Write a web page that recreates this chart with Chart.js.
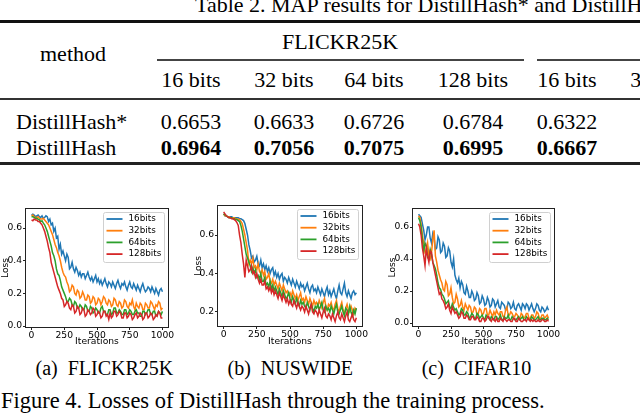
<!DOCTYPE html>
<html>
<head>
<meta charset="utf-8">
<script src="https://cdn.jsdelivr.net/npm/chart.js@4.4.1/dist/chart.umd.min.js"></script>
<style>
    body { margin: 0; width: 640px; height: 415px; overflow: hidden; background: #fff; position: relative; font-family: "Liberation Serif", serif; color: #000; }
    .t { position: absolute; font-size: 22px; line-height: 1; white-space: pre; }
    .c { width: 120px; text-align: center; }
    .b { font-weight: bold; }
    .rule { position: absolute; background: #000; }
    canvas { position: absolute; }
</style>
</head>
<body>
<div class="t" style="left:195px;top:-6px">Table 2. MAP results for DistillHash* and DistillHash.</div>
<div class="rule" style="left:0;top:20px;width:640px;height:3px;background:#111"></div>
<div class="t c" style="left:280px;top:31px">FLICKR25K</div>
<div class="t" style="left:40px;top:43px">method</div>
<div class="rule" style="left:157px;top:59px;width:367px;height:2px;background:#444"></div>
<div class="rule" style="left:537px;top:59px;width:103px;height:2px;background:#444"></div>
<div id="head"></div>
<div class="rule" style="left:0;top:98px;width:640px;height:2px;background:#333"></div>
<div class="t" style="left:16px;top:110.5px">DistillHash*</div>
<div class="t" style="left:16px;top:136.5px">DistillHash</div>
<div id="rows"></div>
<div class="rule" style="left:0;top:162px;width:640px;height:3px;background:#222"></div>

<canvas id="chartFlickr" width="174" height="147" style="left:0;top:200px"></canvas>
<canvas id="chartNus" width="175" height="147" style="left:193px;top:200px"></canvas>
<canvas id="chartCifar" width="173" height="147" style="left:387px;top:200px"></canvas>

<div class="t c" style="left:35.5px;top:358px;font-size:20px">(a)  FLICKR25K</div>
<div class="t c" style="left:227.5px;top:358px;font-size:20px">(b)  NUSWIDE</div>
<div class="t c" style="left:416.5px;top:358px;font-size:20px">(c)  CIFAR10</div>
<div class="t" style="left:1px;top:390px;font-size:22.5px">Figure 4. Losses of DistillHash through the training process.</div>

<script>
// table
let colHeads = ["16 bits", "32 bits", "64 bits", "128 bits", "16 bits", "32 bits"]
let rowStar = ["0.6653", "0.6633", "0.6726", "0.6784", "0.6322", "0"]
let rowFull = ["0.6964", "0.7056", "0.7075", "0.6995", "0.6667", "0"]
let colCenters = [191, 284, 374, 473, 567, 660]

// loss curves, one value every 10 iterations
let iters = [0,10,20,30,40,50,60,70,80,90, 100,110,120,130,140,150,160,170,180,190,
    200,210,220,230,240,250,260,270,280,290, 300,310,320,330,340,350,360,370,380,390,
    400,410,420,430,440,450,460,470,480,490, 500,510,520,530,540,550,560,570,580,590,
    600,610,620,630,640,650,660,670,680,690, 700,710,720,730,740,750,760,770,780,790,
    800,810,820,830,840,850,860,870,880,890, 900,910,920,930,940,950,960,970,980,990, 1000]
let bitLabels = ["16bits", "32bits", "64bits", "128bits"]
let xTicks = [0, 250, 500, 750, 1000]

let flickr16 = [.68,.685,.68,.67,.675,.68,.67,.665,.675,.66, .665,.675,.67,.64,.655,.62,.63,.58,.60,.54,
    .55,.47,.50,.44,.46,.43,.40,.44,.42,.35, .36,.39,.35,.33,.36,.34,.31,.33,.30,.32,
    .32,.29,.31,.33,.30,.28,.30,.27,.29,.31, .27,.29,.26,.28,.25,.27,.29,.26,.24,.27,
    .26,.24,.27,.25,.23,.26,.28,.25,.23,.26, .25,.27,.24,.22,.25,.27,.24,.23,.26,.24,
    .22,.25,.23,.21,.24,.26,.23,.21,.22,.24, .23,.21,.24,.22,.20,.23,.21,.19,.22,.23, .21]
let flickr32 = [.675,.68,.67,.665,.665,.67,.66,.655,.655,.66, .65,.64,.63,.62,.60,.58,.56,.53,.50,.48,
    .45,.43,.40,.36,.33,.31,.30,.27,.25,.21, .22,.25,.24,.20,.19,.22,.21,.17,.18,.21,
    .19,.16,.16,.19,.18,.14,.15,.18,.17,.13, .14,.17,.16,.13,.15,.18,.17,.14,.13,.16,
    .15,.12,.13,.17,.16,.13,.12,.15,.14,.11, .12,.16,.15,.12,.11,.14,.13,.16,.12,.10,
    .14,.12,.11,.14,.13,.10,.10,.14,.13,.11, .11,.15,.14,.12,.10,.13,.12,.15,.14,.10, .11]
let flickr64 = [.67,.67,.665,.66,.66,.655,.65,.64,.645,.63, .62,.60,.58,.55,.52,.49,.45,.43,.40,.35,
    .32,.31,.28,.24,.22,.20,.18,.15,.15,.17, .16,.13,.12,.15,.14,.11,.11,.13,.12,.10,
    .10,.13,.12,.09,.09,.12,.11,.08,.09,.11, .10,.08,.08,.11,.12,.09,.09,.07,.07,.10,
    .10,.07,.08,.11,.11,.08,.08,.10,.09,.07, .07,.10,.10,.07,.08,.10,.09,.07,.07,.09,
    .10,.08,.08,.06,.06,.09,.09,.07,.08,.10, .10,.07,.07,.09,.09,.06,.07,.09,.08,.07, .09]
let flickr128 = [.65,.645,.655,.65,.65,.64,.64,.63,.62,.60, .58,.55,.52,.48,.45,.39,.36,.33,.30,.27,
    .24,.22,.20,.17,.16,.12,.13,.15,.14,.11, .10,.13,.12,.08,.09,.12,.11,.07,.08,.11,
    .10,.06,.07,.10,.09,.07,.08,.11,.10,.06, .07,.09,.08,.05,.06,.09,.09,.06,.07,.04,
    .08,.05,.06,.09,.09,.06,.07,.09,.08,.05, .05,.08,.08,.05,.06,.08,.07,.04,.05,.07,
    .08,.05,.06,.08,.07,.04,.05,.08,.08,.05, .06,.08,.07,.04,.05,.07,.06,.09,.08,.05, .05]

let nus16 = [.71,.70,.70,.695,.695,.695,.695,.69,.69,.69, .69,.69,.685,.685,.68,.675,.66,.63,.60,.55,
    .52,.48,.49,.46,.47,.49,.45,.44,.47,.43, .45,.42,.44,.41,.43,.40,.42,.43,.39,.41,
    .38,.40,.37,.39,.40,.36,.38,.37,.35,.38, .36,.34,.37,.35,.33,.36,.34,.32,.35,.33,
    .34,.31,.33,.35,.32,.30,.33,.34,.31,.32, .30,.33,.31,.29,.32,.30,.28,.31,.33,.29,
    .31,.28,.30,.32,.29,.27,.31,.34,.30,.29, .32,.35,.30,.28,.31,.29,.27,.30,.31,.29, .30]
let nus32 = [.71,.70,.70,.695,.695,.69,.69,.69,.69,.685, .685,.68,.68,.67,.66,.63,.60,.56,.52,.45,
    .47,.45,.48,.43,.44,.42,.45,.41,.40,.42, .39,.41,.37,.38,.40,.36,.35,.37,.34,.36,
    .34,.32,.35,.33,.31,.34,.32,.30,.31,.29, .30,.28,.31,.29,.27,.29,.26,.28,.30,.26,
    .27,.25,.28,.26,.24,.27,.25,.23,.26,.24, .25,.23,.26,.24,.22,.25,.27,.23,.21,.24,
    .23,.25,.22,.21,.24,.26,.22,.20,.23,.25, .21,.19,.22,.24,.21,.20,.23,.21,.19,.22, .21]
let nus64 = [.71,.705,.70,.695,.69,.69,.69,.685,.685,.68, .68,.675,.67,.65,.62,.58,.54,.50,.48,.46,
    .44,.41,.43,.40,.42,.38,.39,.37,.40,.36, .36,.38,.34,.35,.33,.36,.32,.34,.31,.33,
    .31,.29,.32,.30,.28,.31,.29,.27,.28,.30, .27,.25,.28,.26,.24,.27,.25,.23,.26,.24,
    .25,.23,.22,.25,.23,.21,.24,.22,.20,.23, .22,.24,.21,.23,.25,.21,.20,.23,.21,.22,
    .20,.23,.21,.19,.22,.24,.20,.19,.21,.23, .20,.18,.22,.21,.19,.23,.20,.18,.21,.19, .22]
let nus128 = [.72,.71,.70,.695,.69,.69,.685,.685,.68,.675, .665,.65,.60,.56,.50,.45,.38,.47,.44,.41,
    .42,.44,.40,.41,.38,.40,.37,.35,.37,.34, .34,.36,.32,.33,.31,.33,.30,.32,.29,.31,
    .29,.27,.30,.28,.26,.29,.27,.25,.27,.24, .26,.24,.23,.26,.24,.22,.25,.23,.21,.23,
    .22,.20,.23,.21,.19,.22,.24,.20,.19,.21, .20,.18,.21,.19,.17,.20,.22,.18,.17,.19,
    .18,.16,.19,.17,.15,.18,.20,.17,.16,.19, .17,.15,.18,.20,.16,.15,.17,.19,.16,.15, .17]

let cifar16 = [.68,.67,.66,.62,.58,.52,.55,.60,.60,.53, .50,.56,.53,.46,.47,.54,.52,.44,.45,.50,
    .48,.41,.42,.47,.45,.38,.35,.40,.30,.27, .25,.28,.22,.26,.24,.19,.18,.23,.20,.16,
    .16,.20,.18,.14,.15,.19,.17,.12,.13,.17, .15,.11,.12,.16,.14,.10,.11,.15,.14,.10,
    .12,.14,.10,.09,.13,.12,.11,.08,.09,.13, .12,.09,.10,.13,.09,.08,.11,.12,.10,.08,
    .12,.11,.09,.12,.11,.08,.10,.12,.09,.07, .09,.12,.11,.08,.07,.10,.09,.07,.08,.10, .08]
let cifar32 = [.67,.66,.62,.55,.50,.44,.45,.50,.42,.40, .44,.52,.58,.42,.38,.33,.30,.27,.25,.21,
    .20,.26,.24,.17,.18,.22,.16,.12,.13,.18, .15,.10,.11,.14,.10,.08,.12,.10,.08,.11,
    .10,.06,.07,.10,.09,.05,.06,.09,.08,.05, .06,.09,.09,.05,.05,.08,.06,.04,.07,.05,
    .08,.06,.05,.07,.07,.04,.04,.08,.10,.05, .05,.07,.06,.04,.04,.06,.05,.03,.03,.06,
    .05,.03,.04,.06,.06,.03,.03,.05,.05,.03, .04,.07,.06,.03,.03,.05,.05,.03,.04,.05, .03]
let cifar64 = [.66,.64,.60,.52,.45,.50,.48,.41,.40,.46, .43,.38,.36,.34,.30,.25,.22,.21,.18,.17,
    .15,.12,.13,.14,.10,.09,.12,.10,.08,.09, .07,.05,.06,.09,.08,.05,.05,.07,.06,.03,
    .04,.06,.05,.03,.03,.06,.05,.03,.04,.05, .03,.02,.05,.04,.03,.02,.04,.03,.02,.04,
    .04,.02,.03,.05,.02,.02,.04,.03,.03,.05, .02,.02,.04,.03,.02,.02,.03,.04,.02,.03,
    .04,.02,.02,.04,.03,.02,.02,.04,.03,.02, .02,.03,.04,.02,.02,.03,.03,.02,.02,.03, .02]
let cifar128 = [.62,.60,.55,.47,.42,.36,.47,.42,.38,.45, .44,.38,.34,.30,.26,.22,.18,.19,.15,.14,
    .12,.09,.10,.12,.08,.06,.10,.08,.06,.07, .05,.03,.04,.07,.06,.03,.03,.05,.04,.02,
    .02,.04,.04,.02,.02,.04,.03,.01,.01,.03, .03,.01,.02,.04,.04,.02,.01,.03,.02,.01,
    .03,.01,.01,.03,.02,.01,.03,.02,.01,.02, .02,.01,.01,.03,.03,.01,.01,.03,.02,.01,
    .01,.02,.02,.01,.03,.02,.01,.02,.01,.02, .01,.01,.02,.01,.01,.02,.02,.01,.01,.02, .01]

let yTicksFlickr = [0, 0.2, 0.4, 0.6]
let yTicksNus = [0.2, 0.4, 0.6]
let yTicksCifar = [0, 0.2, 0.4, 0.6]

let lineColors = ["#1f77b4", "#ff7f0e", "#2ca02c", "#d62728"]

function fillTable() {
    let head = document.querySelector("#head")
    let rows = document.querySelector("#rows")
    for (let i = 0; i < colHeads.length; i++) {
        let left = (colCenters[i] - 60) + "px"
        head.innerHTML += '<div class="t c" style="left:' + left + ';top:69px">' + colHeads[i] + '</div>'
        rows.innerHTML += '<div class="t c" style="left:' + left + ';top:110.5px">' + rowStar[i] + '</div>'
        rows.innerHTML += '<div class="t c b" style="left:' + left + ';top:136.5px">' + rowFull[i] + '</div>'
    }
}
fillTable()

// frame + legend box like matplotlib
const frameLegend = {
    id: 'frameLegend',
    afterDatasetsDraw(chart) {
        let ctx = chart.ctx
        let a = chart.chartArea
        ctx.save()
        ctx.font = '8.8px "DejaVu Sans"'
        let w = 0
        chart.data.datasets.forEach(d => { w = Math.max(w, ctx.measureText(d.label).width) })
        let bw = Math.round(3 + 16 + 6 + w + 3)
        let bh = Math.round(chart.data.datasets.length * 11.7 + 3)
        let bx = Math.round(a.right - 5 - bw) + 0.5
        let by = Math.round(a.top + 4) + 0.5
        ctx.fillStyle = 'rgba(255,255,255,0.8)'
        ctx.strokeStyle = '#d0d0d0'
        ctx.lineWidth = 1
        ctx.beginPath()
        ctx.roundRect(bx, by, bw, bh, 2)
        ctx.fill()
        ctx.stroke()
        chart.data.datasets.forEach((d, i) => {
            let y = by + 6.5 + i * 11.7
            ctx.strokeStyle = d.borderColor
            ctx.lineWidth = 1.8
            ctx.beginPath()
            ctx.moveTo(bx + 3, y)
            ctx.lineTo(bx + 19, y)
            ctx.stroke()
            ctx.fillStyle = '#000'
            ctx.textBaseline = 'middle'
            ctx.fillText(d.label, bx + 25, y)
        })
        ctx.strokeStyle = '#222'
        ctx.lineWidth = 1
        ctx.strokeRect(Math.round(a.left) + 0.5, Math.round(a.top) + 0.5, Math.round(a.right - a.left) - 1, Math.round(a.bottom - a.top) - 1)
        ctx.restore()
    }
}

function makeChart(id, series, yMin, yMax, yTicks, yWidth, padTop, xHeight) {
    let tickFont = { family: "DejaVu Sans", size: 9.2 }
    let datasets = series.map((s, i) => ({
        label: bitLabels[i],
        data: iters.map((x, j) => ({ x: x, y: s[j] })),
        borderColor: lineColors[i],
        borderWidth: 1.5,
        pointRadius: 0,
        tension: 0,
        order: 4 - i
    }))
    let config = {
        type: 'line',
        data: { datasets: datasets },
        options: {
            responsive: false,
            animation: false,
            devicePixelRatio: 1,
            layout: { padding: { top: padTop, right: 5, left: 0, bottom: 0 } },
            plugins: { legend: { display: false }, tooltip: { enabled: false } },
            scales: {
                x: {
                    type: 'linear',
                    min: -50,
                    max: 1050,
                    afterBuildTicks: s => { s.ticks = xTicks.map(v => ({ value: v })) },
                    afterFit: s => { s.height = xHeight; s.paddingLeft = 0; s.paddingRight = 0 },
                    ticks: { font: tickFont, color: '#000', padding: 0, maxRotation: 0, callback: v => String(v) },
                    grid: { drawOnChartArea: false, tickLength: 2, color: '#222' },
                    border: { display: false },
                    title: { display: true, text: 'Iterations', font: tickFont, color: '#000', padding: 0 }
                },
                y: {
                    min: yMin,
                    max: yMax,
                    afterBuildTicks: s => { s.ticks = yTicks.map(v => ({ value: v })) },
                    afterFit: s => { s.width = yWidth; s.paddingTop = 0; s.paddingBottom = 0 },
                    ticks: { font: tickFont, color: '#000', padding: 1, callback: v => v.toFixed(1) },
                    grid: { drawOnChartArea: false, tickLength: 2, color: '#222' },
                    border: { display: false },
                    title: { display: true, text: 'Loss', font: tickFont, color: '#000', padding: 0 }
                }
            }
        },
        plugins: [frameLegend]
    }
    return new Chart(document.querySelector(id), config)
}

let chartFlickr = makeChart("#chartFlickr", [flickr16, flickr32, flickr64, flickr128], -0.012, 0.723, yTicksFlickr, 25, 8, 19)
let chartNus = makeChart("#chartNus", [nus16, nus32, nus64, nus128], 0.122, 0.756, yTicksNus, 24, 5, 20)
let chartCifar = makeChart("#chartCifar", [cifar16, cifar32, cifar64, cifar128], -0.025, 0.719, yTicksCifar, 25, 8, 20)
</script>
</body>
</html>
